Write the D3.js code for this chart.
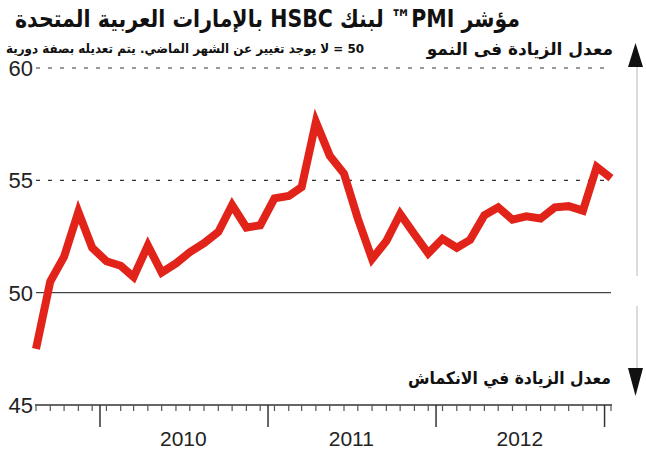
<!DOCTYPE html>
<html>
<head>
<meta charset="utf-8">
<script src="https://cdn.jsdelivr.net/npm/d3@7"></script>
<style>
  html, body { margin: 0; padding: 0; background: #fff; }
  svg { display: block; }
  .ar { font-family: "DejaVu Sans", "Noto Sans", sans-serif; }
  .num { font-family: "Liberation Sans", Arial, sans-serif; }
</style>
</head>
<body>
<svg id="chart" width="646" height="450"></svg>
<script>
// ---- data ----
const startMonth = "2009-08";
const pmiValues = [
  47.5, 50.5, 51.6, 53.6, 52.0,
  51.4, 51.2, 50.7, 52.1, 50.9, 51.3, 51.8, 52.2, 52.7, 53.9, 52.9, 53.0,
  54.2, 54.3, 54.7, 57.6, 56.1, 55.3, 53.3, 51.5, 52.3, 53.5, 52.6, 51.75,
  52.4, 52.0, 52.35, 53.45, 53.8, 53.25, 53.4, 53.3, 53.8, 53.85, 53.65, 55.6,
  55.1
];
const yTicks = [45, 50, 55, 60];
const dashedTicks = [55, 60];
const yearLabels = ["2010", "2011", "2012"];
const titleText = "مؤشر PMI™ لبنك HSBC بالإمارات العربية المتحدة";
const upLabel = "معدل الزيادة فى النمو";
const noteText = "50 = لا يوجد تغيير عن الشهر الماضي. يتم تعديله بصفة دورية";
const downLabel = "معدل الزيادة في الانكماش";

// ---- build ----
const parseMonth = d3.timeParse("%Y-%m");
const start = parseMonth(startMonth);
const data = pmiValues.map((v, i) => ({
  date: new Date(start.getFullYear(), start.getMonth() + i, 15),
  value: v
}));

const svg = d3.select("#chart");
svg.append("rect").attr("width", 646).attr("height", 450).attr("fill", "#fff");

const first = data[0].date, last = data[data.length - 1].date;
const x = d3.scaleTime().domain([first, last]).range([36, 611]);
const y = d3.scaleLinear().domain([45, 60]).range([405, 68]);

// gridlines
svg.selectAll("line.dash").data(dashedTicks).join("line")
  .attr("class", "dash")
  .attr("x1", 36).attr("x2", 611)
  .attr("y1", d => y(d)).attr("y2", d => y(d))
  .attr("stroke", "#333").attr("stroke-width", 1.2)
  .attr("stroke-dasharray", "4,8");

svg.append("line")
  .attr("x1", 36).attr("x2", 611)
  .attr("y1", y(50)).attr("y2", y(50))
  .attr("stroke", "#444").attr("stroke-width", 1.4);

// y tick labels
svg.selectAll("text.ylab").data(yTicks).join("text")
  .attr("class", "ylab num")
  .attr("x", 33).attr("y", d => y(d) + 8)
  .attr("text-anchor", "end")
  .attr("font-size", 22)
  .attr("fill", "#222")
  .text(d => d);

// x axis
const axisG = svg.append("g").attr("transform", `translate(0,${y(45)})`);
axisG.append("line")
  .attr("x1", 35).attr("x2", 612).attr("y1", 0).attr("y2", 0)
  .attr("stroke", "#333").attr("stroke-width", 1.5);

axisG.selectAll("line.mtick").data(data).join("line")
  .attr("class", "mtick")
  .attr("x1", d => x(d.date)).attr("x2", d => x(d.date))
  .attr("y1", 0).attr("y2", 6)
  .attr("stroke", "#555").attr("stroke-width", 1.2);

const yearStarts = d3.timeYear.range(d3.timeYear.ceil(first), last);
axisG.selectAll("line.ytick").data(yearStarts).join("line")
  .attr("class", "ytick")
  .attr("x1", d => x(d)).attr("x2", d => x(d))
  .attr("y1", 0).attr("y2", 22)
  .attr("stroke", "#333").attr("stroke-width", 1.5);

axisG.selectAll("text.year").data(yearLabels).join("text")
  .attr("class", "year num")
  .attr("x", d => x(new Date(+d, 6, 1)))
  .attr("y", 41)
  .attr("text-anchor", "middle")
  .attr("font-size", 21)
  .attr("fill", "#222")
  .text(d => d);

// line
const line = d3.line().x(d => x(d.date)).y(d => y(d.value));
svg.append("path")
  .datum(data)
  .attr("d", line)
  .attr("fill", "none")
  .attr("stroke", "#e2231a")
  .attr("stroke-width", 8)
  .attr("stroke-linejoin", "miter")
  .attr("stroke-miterlimit", 10);

// right guide with arrows
svg.append("line").attr("x1", 637).attr("x2", 637).attr("y1", 66).attr("y2", 276)
  .attr("stroke", "#d0d0d0").attr("stroke-width", 1.5);
svg.append("line").attr("x1", 637).attr("x2", 637).attr("y1", 306).attr("y2", 370)
  .attr("stroke", "#d0d0d0").attr("stroke-width", 1.5);
svg.append("path").attr("d", "M628,67 L643,67 L635.5,43 Z").attr("fill", "#111");
svg.append("path").attr("d", "M628,368 L643,368 L635.5,396 Z").attr("fill", "#111");

// texts fitted to the reference's extents
function fitText(txt, left, right, baseline, size, weight) {
  const t = svg.append("text").attr("class", "ar")
    .attr("x", right).attr("y", baseline)
    .attr("direction", "rtl").attr("text-anchor", "start")
    .attr("font-size", size).attr("font-weight", weight).attr("fill", "#111")
    .text(txt);
  const w = t.node().getComputedTextLength();
  const target = right - left;
  if (w > target) {
    t.attr("textLength", target).attr("lengthAdjust", "spacingAndGlyphs");
  }
  return t;
}

fitText(titleText, 15, 520, 27, 24, "bold");
fitText(upLabel, 418, 613, 55, 17, "bold");
fitText(noteText, 6, 364, 53, 13, "bold");
fitText(downLabel, 408, 611, 384, 17, "bold");
</script>
</body>
</html>
